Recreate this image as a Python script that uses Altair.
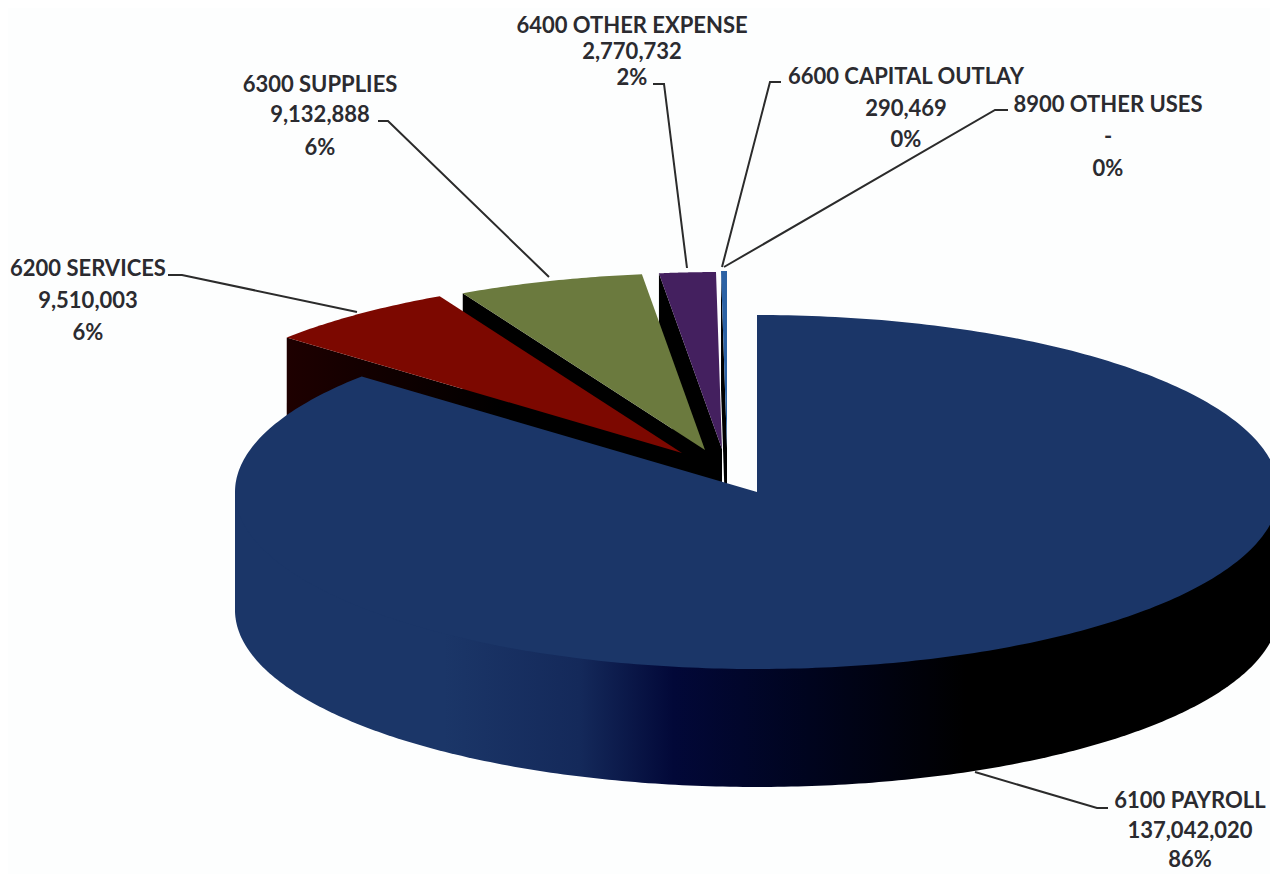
import math
import altair as alt
import pandas as pd

# ---- chart values -------------------------------------------------------
categories = ["6100 PAYROLL", "6200 SERVICES", "6300 SUPPLIES", "6400 OTHER EXPENSE",
              "6600 CAPITAL OUTLAY", "8900 OTHER USES"]
amounts = [137042020, 9510003, 9132888, 2770732, 290469, 0]
amount_labels = ["137,042,020", "9,510,003", "9,132,888", "2,770,732", "290,469", "-"]
percent_labels = ["86%", "6%", "6%", "2%", "0%", "0%"]
top_colors = ["#1b3668", "#7c0800", "#6b7a3e", "#44205f", "#2c62a4", "#2c62a4"]
wall_left = ["#000000", "#1e0000", "#000000", "#000000", "#000000", "#000000"]

# exploded slice centres and pie proportions
slice_cx = [757, 682, 705, 722, 727, 727]
slice_cy = [492, 453, 450, 449, 448, 448]
RX, RY, DEPTH = 522, 177, 118

label_cx = [1190, 88, 320, 632, 906, 1108]
label_y = [[799, 829, 858], [267, 299, 331], [83, 113, 146], [24, 50, 76], [75, 107, 138], [103, 135, 167]]
leader_x = [[975, 1097, 1108], [168, 182, 357], [378, 388, 549], [653, 664, 687], [781, 770, 722], [1008, 995, 724]]
leader_y = [[772, 808, 808], [275, 275, 312], [121, 121, 277], [84, 84, 268], [82, 82, 267], [110, 110, 267]]

W, H = 1262, 866
x_scale = alt.Scale(domain=[8, 8 + W], range=[0, W], nice=False, zero=False)
y_scale = alt.Scale(domain=[8, 8 + H], range=[0, H], nice=False, zero=False)


def ell(a, cx, cy):
    return cx + RX * math.sin(a), cy - RY * math.cos(a)


def poly(points, fill):
    df = pd.DataFrame({"px": [p[0] for p in points], "py": [p[1] for p in points], "i": range(len(points))})
    return alt.Chart(df).mark_line(fill=fill, strokeWidth=0, clip=True).encode(
        x=alt.X("px:Q", scale=x_scale, axis=None),
        y=alt.Y("py:Q", scale=y_scale, axis=None),
        order="i:Q",
    )


total = sum(amounts)
edges = [0.0]
for v in amounts:
    edges.append(edges[-1] + v / total * 2 * math.pi)


def arc(a0, a1, cx, cy, n=120):
    return [ell(a0 + (a1 - a0) * k / n, cx, cy) for k in range(n + 1)]


def linear(stops):
    return alt.Gradient(
        gradient="linear", x1=0, x2=1, y1=0, y2=0,
        stops=[alt.GradientStop(color=c, offset=o) for c, o in stops],
    )


layers = []
# slices from back to front: the small ones first, the payroll slice last
for i in [4, 3, 2, 1]:
    cx, cy = slice_cx[i], slice_cy[i]
    a0, a1 = edges[i], edges[i + 1]
    outer = ell(a0, cx, cy)
    wall = [outer, (cx, cy), (cx, cy + DEPTH), (outer[0], outer[1] + DEPTH)]
    layers.append(poly(wall, linear([(wall_left[i], 0.0), ("#000000", 0.55), ("#000000", 1.0)])))
    layers.append(poly([(cx, cy)] + arc(a0, a1, cx, cy, 40), top_colors[i]))

# payroll: rim with its shading, then the top face
cx, cy = slice_cx[0], slice_cy[0]
front_bottom = [(x, y + DEPTH) for x, y in arc(math.pi / 2, 3 * math.pi / 2, cx, cy, 240)]
rim_shape = [ell(math.pi / 2, cx, cy)] + front_bottom + [ell(3 * math.pi / 2, cx, cy)]
rim_fill = linear([
    ("#1b3668", 0.0),
    ("#1b3668", 0.2),
    ("#14295a", 0.33),
    ("#020838", 0.42),
    ("#00041e", 0.55),
    ("#000000", 0.7),
    ("#000000", 1.0),
])
layers.append(poly(rim_shape, rim_fill))
layers.append(poly([(cx, cy)] + arc(edges[0], edges[1], cx, cy, 360), top_colors[0]))

# leader lines
rows = []
for i, name in enumerate(categories):
    for k in range(3):
        rows.append({"name": name, "k": k, "px": leader_x[i][k], "py": leader_y[i][k]})
layers.append(
    alt.Chart(pd.DataFrame(rows)).mark_line(stroke="#2b2b2b", strokeWidth=2).encode(
        x=alt.X("px:Q", scale=x_scale, axis=None),
        y=alt.Y("py:Q", scale=y_scale, axis=None),
        detail="name:N",
        order="k:Q",
    )
)

# labels
rows = []
for i, name in enumerate(categories):
    for txt, yy in zip([name, amount_labels[i], percent_labels[i]], label_y[i]):
        rows.append({"t": txt, "px": label_cx[i], "py": yy})
layers.append(
    alt.Chart(pd.DataFrame(rows)).mark_text(
        font="Lato", fontWeight="bold", fontSize=22, dy=2, color="#2b2b30", align="center", baseline="middle"
    ).encode(
        x=alt.X("px:Q", scale=x_scale, axis=None),
        y=alt.Y("py:Q", scale=y_scale, axis=None),
        text="t:N",
    )
)

chart = alt.layer(*layers).properties(
    width=W, height=H, padding=0, background="#fdfefe",
    autosize=alt.AutoSizeParams(type="none"),
).configure_view(stroke=None)

chart.save("out.html", embed_options={"renderer": "svg", "actions": False})
